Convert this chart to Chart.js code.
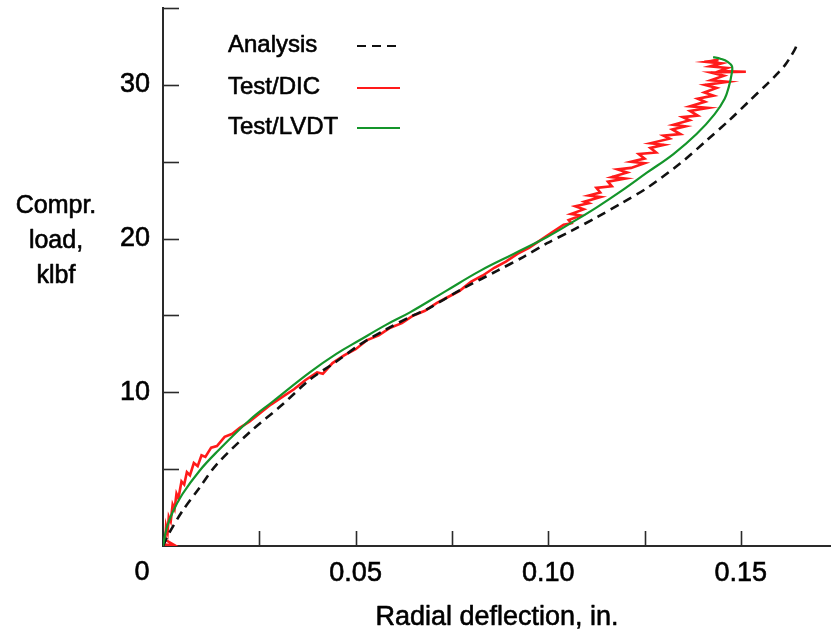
<!DOCTYPE html>
<html>
<head>
<meta charset="utf-8">
<script src="https://cdn.jsdelivr.net/npm/chart.js@4.4.1/dist/chart.umd.min.js"></script>
<style>
  html, body { margin: 0; padding: 0; background: #ffffff; }
  #wrap { width: 831px; height: 634px; position: relative; }
</style>
</head>
<body>
<div id="wrap"><canvas id="c" width="831" height="634"></canvas></div>
<script>
// ---- data ----
const seriesNames = ['Analysis', 'Test/DIC', 'Test/LVDT'];

// Analysis (x = radial deflection in., y = load klbf)
const analysisX = [0, 0.0015, 0.0051, 0.0095, 0.0139, 0.0225, 0.031, 0.038, 0.045, 0.0511, 0.058, 0.0641, 0.0685, 0.0775, 0.0867, 0.0935, 0.0997, 0.106, 0.1127, 0.119, 0.1257, 0.1343, 0.1412, 0.147, 0.1524, 0.157, 0.159, 0.1615, 0.1632, 0.1642, 0.1646];
const analysisY = [0, 0.8, 2.3, 3.8, 5.3, 7.4, 9.2, 10.8, 12.0, 13.1, 14.1, 14.9, 15.4, 16.7, 17.9, 18.8, 19.7, 20.5, 21.4, 22.3, 23.3, 24.9, 26.4, 27.7, 29.0, 30.1, 30.6, 31.3, 31.95, 32.4, 32.75];

// Test / DIC (noisy trace)
const dicX = [0.0003, 0.0030, 0.0006, 0.0008, 0.0012, 0.0015, 0.0020, 0.0025, 0.0030, 0.0035, 0.0040, 0.0048, 0.0055, 0.0062, 0.0070, 0.0080, 0.0090, 0.0100, 0.0110, 0.0125, 0.0140, 0.0160, 0.0180, 0.0200, 0.0225, 0.0250, 0.0280, 0.0310, 0.0340, 0.0370, 0.0400, 0.0415, 0.0440, 0.0470, 0.0500, 0.0530, 0.0560, 0.0590, 0.0620, 0.0650, 0.0680, 0.0710, 0.0740, 0.0770, 0.0800, 0.0830, 0.0860, 0.0890, 0.0920, 0.0950, 0.0980, 0.1010, 0.1040,
  0.1060, 0.1053, 0.1085, 0.1059, 0.1092, 0.1070, 0.1105, 0.1094, 0.1136, 0.1105, 0.1135, 0.1125, 0.1165, 0.1155, 0.1200, 0.1165, 0.1205, 0.1180, 0.1215, 0.1250, 0.1215, 0.1250, 0.1235, 0.1280, 0.1265, 0.1300, 0.1265, 0.1315, 0.1299, 0.1343, 0.1322, 0.1356, 0.1325, 0.1367, 0.1349, 0.1388, 0.1368, 0.1415, 0.1368, 0.1407, 0.1388, 0.1429, 0.1405, 0.1437, 0.1407, 0.1466, 0.1422, 0.1456, 0.1423, 0.1513, 0.1444, 0.1465, 0.1420, 0.1450, 0.1410, 0.1442, 0.1405];
const dicY = [0.1, 0.05, 0.4, 1.3, 0.9, 1.9, 1.6, 2.7, 2.4, 3.4, 3.1, 4.2, 4.0, 4.8, 4.6, 5.4, 5.2, 5.9, 5.8, 6.4, 6.5, 7.1, 7.3, 7.7, 8.1, 8.6, 9.2, 9.7, 10.2, 10.8, 11.3, 11.2, 11.9, 12.4, 12.8, 13.4, 13.7, 14.2, 14.5, 15.0, 15.3, 15.8, 16.2, 16.6, 17.2, 17.6, 18.1, 18.5, 19.0, 19.4, 19.9, 20.4, 20.9,
  21.0, 21.2, 21.5, 21.6, 21.9, 22.1, 22.3, 22.4, 22.7, 22.8, 23.0, 23.3, 23.4, 23.7, 23.9, 24.0, 24.3, 24.5, 24.6, 24.9, 25.0, 25.2, 25.5, 25.6, 25.9, 26.1, 26.2, 26.5, 26.7, 26.8, 27.1, 27.3, 27.4, 27.7, 27.9, 28.0, 28.3, 28.5, 28.6, 28.9, 29.1, 29.3, 29.5, 29.8, 30.0, 30.2, 30.3, 30.6, 30.8, 30.85, 30.9, 31.1, 31.2, 31.4, 31.5, 31.6, 31.5];

// Test / LVDT
const lvdtX = [0, 0.001, 0.0025, 0.0051, 0.0095, 0.0139, 0.0225, 0.0285, 0.0381, 0.045, 0.0511, 0.058, 0.0641, 0.0735, 0.0823, 0.091, 0.0997, 0.1065, 0.1127, 0.119, 0.1257, 0.1325, 0.1385, 0.1432, 0.1458, 0.1469, 0.1476, 0.1477, 0.1466, 0.1447, 0.1428];
const lvdtY = [0, 1.2, 2.2, 3.4, 4.9, 6.1, 8.2, 9.4, 11.3, 12.5, 13.4, 14.4, 15.2, 16.6, 17.9, 19.0, 20.1, 21.1, 22.05, 23.1, 24.3, 25.5, 26.8, 28.1, 29.1, 29.9, 30.7, 31.2, 31.5, 31.7, 31.8];

// tick labels
const xTickLabels = [0.05, 0.10, 0.15];
const yTickLabels = [10, 20, 30];
const xMinorTicks = [0.025, 0.05, 0.075, 0.10, 0.125, 0.15];
const yMinorTicks = [5, 10, 15, 20, 25, 30, 35];
const originLabel = '0';
const xTitle = 'Radial deflection, in.';
const yTitle = ['Compr.', 'load,', 'klbf'];

const pts = (xs, ys) => xs.map((x, i) => ({ x: x, y: ys[i] }));

const FONT = "'Liberation Sans', Arial, Helvetica, sans-serif";
const AXIS_COLOR = '#2a2a2a';
const COLORS = { analysis: '#111111', dic: '#ff1a1a', lvdt: '#14952a' };

function txt(ctx, s, x, y) {
  ctx.strokeText(s, x, y);
  ctx.fillText(s, x, y);
}

const decorPlugin = {
  id: 'decor',
  afterDraw(chart) {
    const ctx = chart.ctx;
    const xs = chart.scales.x, ys = chart.scales.y;
    const ca = chart.chartArea;
    ctx.save();
    // inward tick marks
    ctx.strokeStyle = AXIS_COLOR;
    ctx.lineWidth = 1.6;
    xMinorTicks.forEach(v => {
      const px = Math.round(xs.getPixelForValue(v)) + 0.5;
      ctx.beginPath(); ctx.moveTo(px, ca.bottom); ctx.lineTo(px, ca.bottom - 15); ctx.stroke();
    });
    yMinorTicks.forEach(v => {
      const py = Math.round(ys.getPixelForValue(v)) + 0.5;
      ctx.beginPath(); ctx.moveTo(ca.left, py); ctx.lineTo(ca.left + 16, py); ctx.stroke();
    });
    // text
    ctx.fillStyle = '#000';
    ctx.strokeStyle = '#000';
    ctx.lineWidth = 0.6;
    ctx.lineJoin = 'round';
    ctx.textAlign = 'center';
    ctx.textBaseline = 'middle';
    ctx.font = '27px ' + FONT;
    txt(ctx, originLabel, ca.left - 21, 573);
    ctx.font = '27px ' + FONT;
    txt(ctx, xTitle, 497, 618);
    ctx.font = '25px ' + FONT;
    yTitle.forEach((t, i) => txt(ctx, t, 56, 206 + i * 35));
    // legend
    const items = [
      { label: seriesNames[0], color: COLORS.analysis, dash: [9, 6], y: 45 },
      { label: seriesNames[1], color: COLORS.dic, dash: [], y: 87 },
      { label: seriesNames[2], color: COLORS.lvdt, dash: [], y: 127 }
    ];
    items.forEach(it => {
      ctx.textAlign = 'left';
      ctx.fillStyle = '#000';
      ctx.strokeStyle = '#000';
      ctx.lineWidth = 0.6;
      ctx.font = '24px ' + FONT;
      txt(ctx, it.label, 228, it.y);
      ctx.strokeStyle = it.color;
      ctx.lineWidth = 2.2;
      ctx.setLineDash(it.dash);
      ctx.beginPath(); ctx.moveTo(357, it.y + 1); ctx.lineTo(400, it.y + 1); ctx.stroke();
      ctx.setLineDash([]);
    });
    ctx.restore();
  }
};

const zeroPad = s => { s.paddingLeft = 0; s.paddingRight = 0; s.paddingTop = 0; s.paddingBottom = 0; };

new Chart(document.getElementById('c'), {
  type: 'scatter',
  data: {
    datasets: [
      { label: seriesNames[2], data: pts(lvdtX, lvdtY), showLine: true, borderColor: COLORS.lvdt, borderWidth: 2.2, pointRadius: 0, tension: 0.4, order: 1 },
      { label: seriesNames[0], data: pts(analysisX, analysisY), showLine: true, borderColor: COLORS.analysis, borderWidth: 2.6, borderDash: [9, 6], pointRadius: 0, tension: 0.3, order: 2 },
      { label: seriesNames[1], data: pts(dicX, dicY), showLine: true, borderColor: COLORS.dic, borderWidth: 2.6, pointRadius: 0, tension: 0, order: 3 }
    ]
  },
  options: {
    responsive: false,
    devicePixelRatio: 1,
    animation: false,
    layout: { padding: { top: 8, right: 0, left: 0, bottom: 0 } },
    plugins: { legend: { display: false }, tooltip: { enabled: false } },
    scales: {
      x: {
        type: 'linear', min: 0, max: 0.1734,
        grid: { display: false, drawTicks: false },
        border: { display: true, color: AXIS_COLOR, width: 2 },
        afterBuildTicks: s => { s.ticks = [0].concat(xTickLabels).map(v => ({ value: v })); },
        ticks: {
          padding: 11, color: '#000', maxRotation: 0, minRotation: 0, autoSkip: false,
          textStrokeColor: '#000', textStrokeWidth: 0.6,
          font: { family: FONT, size: 27 },
          callback: v => (v === 0 ? '' : v.toFixed(2))
        },
        afterFit: s => { s.height = 88; zeroPad(s); }
      },
      y: {
        type: 'linear', min: 0, max: 35,
        grid: { display: false, drawTicks: false },
        border: { display: true, color: AXIS_COLOR, width: 2 },
        afterBuildTicks: s => { s.ticks = [0].concat(yTickLabels).map(v => ({ value: v })); },
        ticks: {
          padding: 13, color: '#000', autoSkip: false,
          textStrokeColor: '#000', textStrokeWidth: 0.6,
          font: { family: FONT, size: 27 },
          callback: v => (v === 0 ? '' : String(v))
        },
        afterFit: s => { s.width = 163; zeroPad(s); }
      }
    }
  },
  plugins: [decorPlugin]
});
</script>
</body>
</html>
